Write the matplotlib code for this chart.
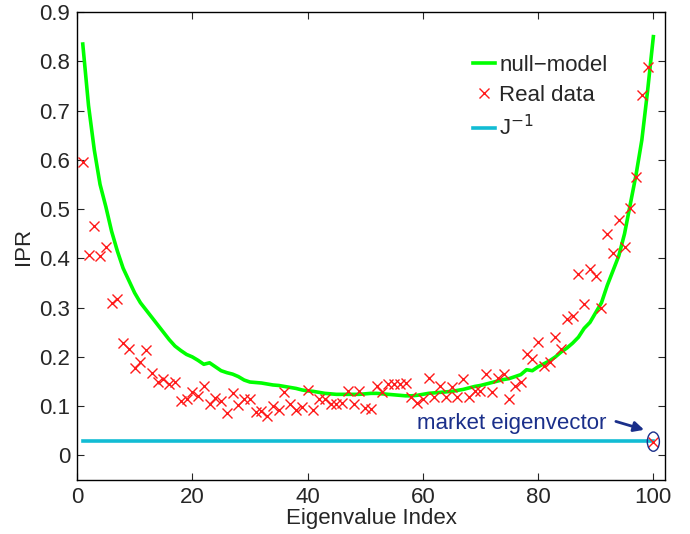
import matplotlib
matplotlib.use("Agg")
import matplotlib.pyplot as plt
from matplotlib.patches import Ellipse

plt.rcParams['font.family'] = ['Liberation Sans', 'DejaVu Sans']

index = list(range(1, 101))

null_model = [
    0.835, 0.71, 0.62, 0.55, 0.505, 0.455, 0.415, 0.38, 0.355, 0.33,
    0.31, 0.295, 0.28, 0.265, 0.25, 0.235, 0.222, 0.213, 0.205, 0.2,
    0.193, 0.185, 0.188, 0.18, 0.172, 0.168, 0.165, 0.16, 0.153, 0.149,
    0.148, 0.147, 0.145, 0.143, 0.142, 0.14, 0.138, 0.136, 0.133, 0.131,
    0.13, 0.128, 0.126, 0.125, 0.124, 0.124, 0.124, 0.124, 0.124, 0.125,
    0.126, 0.126, 0.125, 0.124, 0.123, 0.122, 0.121, 0.121, 0.122, 0.124,
    0.126, 0.127, 0.128, 0.129, 0.13, 0.132, 0.134, 0.137, 0.14, 0.142,
    0.145, 0.148, 0.151, 0.154, 0.156, 0.16, 0.164, 0.174, 0.172, 0.18,
    0.186, 0.192, 0.2, 0.21, 0.218, 0.228, 0.24, 0.258, 0.27, 0.29,
    0.31, 0.345, 0.375, 0.405, 0.45, 0.51, 0.57, 0.64, 0.74, 0.85,
]

real_data = [
    0.595, 0.407, 0.466, 0.405, 0.423, 0.31, 0.318, 0.228, 0.216, 0.177,
    0.19, 0.214, 0.168, 0.149, 0.155, 0.145, 0.149, 0.111, 0.114, 0.128,
    0.12, 0.141, 0.104, 0.116, 0.111, 0.086, 0.126, 0.102, 0.115, 0.114,
    0.088, 0.090, 0.080, 0.100, 0.092, 0.128, 0.104, 0.092, 0.098, 0.132,
    0.092, 0.115, 0.115, 0.104, 0.104, 0.107, 0.131, 0.104, 0.131, 0.097,
    0.094, 0.141, 0.128, 0.145, 0.145, 0.145, 0.146, 0.118, 0.107, 0.114,
    0.157, 0.118, 0.141, 0.118, 0.138, 0.118, 0.155, 0.118, 0.131, 0.131,
    0.166, 0.128, 0.158, 0.165, 0.115, 0.14, 0.149, 0.206, 0.196, 0.231,
    0.182, 0.189, 0.24, 0.217, 0.276, 0.284, 0.368, 0.308, 0.378, 0.365,
    0.30, 0.45, 0.411, 0.477, 0.423, 0.502, 0.565, 0.732, 0.788, 0.028,
]

j_inverse = [0.029] * 100

x_ticks = [0, 20, 40, 60, 80, 100]
y_ticks = [0, 0.1, 0.2, 0.3, 0.4, 0.5, 0.6, 0.7, 0.8, 0.9]
y_tick_labels = ['0', '0.1', '0.2', '0.3', '0.4', '0.5', '0.6', '0.7', '0.8', '0.9']

FS = 16

fig = plt.figure(figsize=(6.9, 5.34), dpi=100)
ax = fig.add_axes([0.1116, 0.101, 0.852, 0.8765])

ax.plot(index, null_model, color='#00ff00', lw=2.6, label='null\u2212model', zorder=3)
ax.plot(index, real_data, linestyle='none', marker='x', color='#ff1a1a',
        markersize=7, markeredgewidth=1.0, label='Real data', zorder=4)
ax.plot(index, j_inverse, color='#12bcd4', lw=2.6, label='J$^{-1}$', zorder=2)

# market eigenvector annotation
ax.add_patch(Ellipse((index[-1], real_data[-1]), 2.1, 0.039, fill=False,
                     edgecolor='#1a2f8a', lw=1.0, zorder=5))
ax.annotate('', xy=(98.4, 0.052), xytext=(93.5, 0.069),
            arrowprops=dict(arrowstyle='-|>,head_length=0.6,head_width=0.3',
                            color='#1a2f8a', lw=2.0, shrinkA=0, shrinkB=0))
ax.text(59.0, 0.053, 'market eigenvector', color='#1a2f8a', fontsize=FS,
        ha='left', va='baseline')

ax.set_xlim(0, 102)
ax.set_ylim(-0.05, 0.9)
ax.set_xticks(x_ticks)
ax.set_yticks(y_ticks)
ax.set_yticklabels(y_tick_labels)
ax.tick_params(direction='in', top=True, right=True, labelsize=FS,
               length=5, width=0.8, colors='#262626', pad=5)
for s in ax.spines.values():
    s.set_linewidth(1.0)
    s.set_color('black')

ax.set_xlabel('Eigenvalue Index', fontsize=FS, color='#262626', labelpad=0)
ax.set_ylabel('IPR', fontsize=FS, color='#262626', labelpad=4)

leg = ax.legend(loc='upper left', bbox_to_anchor=(0.673, 0.909), frameon=False,
                fontsize=FS, handlelength=1.0, handletextpad=0.2,
                labelspacing=0.42, borderaxespad=0, borderpad=0)
for t in leg.get_texts():
    t.set_color('#262626')

fig.savefig('out.png', dpi=100)
